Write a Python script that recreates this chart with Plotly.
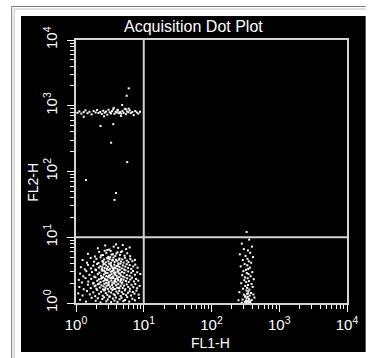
import plotly.graph_objects as go

# ---------------- data ----------------
# lower-left population (FL1-H, FL2-H)
ll_x = [1.15, 1.4, 1.7, 1.95, 2.1, 2.3, 2.45, 2.6, 2.8, 2.95, 3.1, 3.3, 3.5, 3.7, 3.9, 4.1, 4.4, 4.7, 5.0, 5.3, 5.7, 6.1, 6.8, 7.4, 8.5,
        1.08, 1.25, 1.45, 1.6, 1.8, 1.92, 2.05, 2.2, 2.35, 2.48, 2.6, 2.75, 2.9, 3.05, 3.15, 3.3, 3.45, 3.6, 3.75, 3.95, 4.15, 4.35, 4.55, 4.75, 5.0, 5.25, 5.5, 5.85, 6.2, 6.5, 6.9, 7.3, 7.8, 8.4, 2.68,
        1.12, 1.3, 1.5, 1.65, 1.78, 1.88, 2.0, 2.12, 2.25, 2.38, 2.5, 2.62, 2.72, 2.83, 2.95, 3.05, 3.18, 3.28, 3.4, 3.52, 3.65, 3.78, 3.9, 4.05, 4.2, 4.38, 4.55, 4.72, 4.9, 5.1, 5.35, 5.6, 5.9, 6.25, 6.6, 7.0, 7.5, 8.0, 8.7, 2.55, 3.0, 3.6, 2.2, 4.3, 1.95,
        1.1, 1.22, 1.38, 1.52, 1.68, 1.82, 1.94, 2.06, 2.18, 2.3, 2.42, 2.54, 2.66, 2.78, 2.88, 2.98, 3.08, 3.2, 3.32, 3.44, 3.56, 3.68, 3.8, 3.93, 4.06, 4.2, 4.34, 4.5, 4.66, 4.84, 5.02, 5.22, 5.45, 5.7, 6.0, 6.35, 6.7, 7.2, 7.7, 8.3, 2.35, 2.7, 3.0, 3.35, 3.75, 4.1, 2.5, 2.9, 3.5, 4.6,
        1.15, 1.28, 1.42, 1.58, 1.72, 1.86, 1.98, 2.1, 2.22, 2.34, 2.46, 2.58, 2.7, 2.81, 2.92, 3.02, 3.12, 3.24, 3.36, 3.48, 3.6, 3.72, 3.85, 3.98, 4.12, 4.27, 4.42, 4.58, 4.75, 4.95, 5.15, 5.38, 5.62, 5.9, 6.2, 6.55, 6.95, 7.4, 8.0, 8.9, 2.4, 2.75, 3.05, 3.4, 3.8, 4.2, 2.6, 3.2, 3.65, 4.5,
        1.18, 1.35, 1.5, 1.66, 1.8, 1.93, 2.05, 2.17, 2.29, 2.41, 2.53, 2.65, 2.77, 2.87, 2.97, 3.08, 3.18, 3.3, 3.42, 3.55, 3.68, 3.82, 3.96, 4.1, 4.25, 4.4, 4.56, 4.73, 4.92, 5.12, 5.35, 5.6, 5.88, 6.2, 6.55, 7.0, 7.5, 8.1, 2.45, 2.85, 3.25, 3.7, 4.15, 2.6, 3.5,
        1.25, 1.45, 1.65, 1.85, 2.0, 2.15, 2.3, 2.45, 2.6, 2.75, 2.88, 3.0, 3.14, 3.28, 3.42, 3.57, 3.72, 3.88, 4.05, 4.22, 4.4, 4.6, 4.82, 5.05, 5.3, 5.6, 5.95, 6.35, 6.8, 7.4, 2.5, 2.95, 3.5, 4.3, 3.2,
        1.5, 1.9, 2.2, 2.5, 2.8, 3.0, 3.25, 3.5, 3.8, 4.1, 4.45, 4.8, 5.2, 5.7, 6.3, 2.65, 3.35, 3.95, 4.6, 2.35,
        2.1, 2.7, 3.1, 3.6, 4.2, 4.9, 5.5, 3.9, 2.9, 6.2]
ll_y = [1.12, 1.05, 1.2, 1.08, 1.18, 1.02, 1.15, 1.22, 1.06, 1.13, 1.24, 1.03, 1.17, 1.09, 1.21, 1.04, 1.14, 1.2, 1.07, 1.11, 1.23, 1.05, 1.16, 1.1, 1.19,
        1.4, 1.3, 1.52, 1.35, 1.45, 1.27, 1.58, 1.38, 1.48, 1.29, 1.55, 1.42, 1.33, 1.5, 1.26, 1.44, 1.57, 1.36, 1.31, 1.49, 1.4, 1.53, 1.28, 1.46, 1.37, 1.56, 1.32, 1.43, 1.51, 1.3, 1.47, 1.39, 1.54, 1.34, 1.59,
        1.75, 1.62, 1.9, 1.68, 1.98, 1.8, 1.65, 1.93, 1.72, 1.85, 1.61, 1.96, 1.7, 1.83, 1.64, 1.91, 1.77, 1.66, 1.88, 1.73, 1.99, 1.63, 1.86, 1.71, 1.94, 1.67, 1.81, 1.97, 1.69, 1.84, 1.62, 1.92, 1.76, 1.65, 1.89, 1.74, 1.95, 1.68, 1.82, 1.79, 1.87, 1.64, 1.97, 1.7, 1.85,
        2.25, 2.05, 2.4, 2.12, 2.33, 2.02, 2.46, 2.18, 2.29, 2.08, 2.42, 2.15, 2.36, 2.03, 2.27, 2.48, 2.1, 2.38, 2.2, 2.04, 2.44, 2.14, 2.31, 2.07, 2.4, 2.22, 2.49, 2.11, 2.34, 2.06, 2.26, 2.45, 2.16, 2.37, 2.09, 2.28, 2.43, 2.13, 2.32, 2.19, 2.35, 2.24, 2.01, 2.41, 2.17, 2.3, 2.47, 2.21, 2.39, 2.23,
        2.8, 2.55, 3.05, 2.68, 2.95, 2.52, 3.15, 2.75, 2.9, 2.6, 3.1, 2.72, 2.98, 2.56, 2.85, 3.18, 2.64, 3.0, 2.78, 2.53, 3.12, 2.7, 2.92, 2.58, 3.08, 2.82, 3.19, 2.62, 2.96, 2.54, 2.87, 3.14, 2.66, 3.02, 2.59, 2.88, 3.06, 2.69, 2.93, 2.76, 3.16, 2.84, 2.57, 3.04, 2.73, 2.99, 3.11, 2.63, 2.89, 2.79,
        3.5, 3.25, 3.8, 3.35, 3.7, 3.22, 3.92, 3.45, 3.62, 3.28, 3.86, 3.4, 3.74, 3.23, 3.56, 3.96, 3.32, 3.67, 3.48, 3.26, 3.83, 3.38, 3.65, 3.3, 3.88, 3.52, 3.98, 3.36, 3.72, 3.24, 3.58, 3.9, 3.42, 3.77, 3.29, 3.6, 3.84, 3.44, 3.55, 3.34, 3.79, 3.47, 3.68, 3.94, 3.39,
        4.5, 4.1, 4.85, 4.25, 4.7, 4.05, 4.95, 4.35, 4.6, 4.15, 4.8, 4.3, 4.65, 4.08, 4.45, 4.9, 4.2, 4.55, 4.38, 4.02, 4.75, 4.28, 4.62, 4.12, 4.88, 4.42, 4.18, 4.68, 4.32, 4.52, 4.22, 4.78, 4.48, 4.58, 4.98,
        5.6, 5.1, 6.0, 5.35, 5.8, 5.05, 6.2, 5.5, 5.2, 5.9, 5.4, 6.1, 5.25, 5.7, 5.15, 6.25, 5.45, 5.65, 5.95, 5.3,
        6.8, 7.5, 6.5, 7.2, 6.9, 7.6, 6.6, 7.8, 6.4, 7.0]

# upper-left band near 10^3
ul_x = [1.05, 1.12, 1.2, 1.3, 1.38, 1.48, 1.58, 1.7, 1.82, 1.95, 2.05, 2.15, 2.28, 2.4, 2.52, 2.65, 2.78, 2.9, 3.02, 3.15,
        3.28, 3.4, 3.55, 3.7, 3.85, 4.0, 4.15, 4.3, 4.48, 4.65, 4.85, 5.05, 5.25, 5.45, 5.7, 5.95, 6.2, 6.5, 6.8, 7.1,
        7.5, 7.9, 8.3, 8.8, 3.6, 4.1, 4.6, 5.5, 6.0, 2.6,
        6.0, 5.6, 4.8, 1.3, 2.3, 3.55, 3.3, 5.7, 1.4, 3.9, 3.7]
ul_y = [780, 820, 760, 800, 850, 770, 810, 740, 830, 790, 860, 775, 805, 750, 840, 785, 815, 730, 870, 795,
        765, 825, 880, 755, 810, 790, 845, 770, 800, 760, 835, 780, 900, 745, 815, 795, 850, 775, 805, 720,
        830, 790, 760, 810, 930, 870, 700, 880, 905, 690,
        1840, 1420, 1025, 680, 492, 525, 274, 139, 74, 47, 37]

# right population (FL1-H ~ 300)
rc_x = [330, 360, 280, 395, 300, 345, 372, 262, 318, 410, 340, 290, 355, 385, 308, 338, 270, 368, 348, 322,
        296, 400, 332, 352, 284, 378, 312, 342, 420, 305, 358, 326, 275, 390, 346, 315, 405, 336, 292, 362,
        328, 350, 258, 382, 334, 300, 366, 318, 344, 430, 330, 356, 288, 392, 322, 340, 374, 310, 348, 335,
        280, 352, 325, 370, 338, 360, 312, 345, 250, 415]
rc_y = [12.0, 9.2, 8.0, 7.2, 6.6, 6.3, 5.8, 5.5, 5.2, 5.0, 4.7, 4.5, 4.3, 4.1, 3.9, 3.75, 3.6, 3.45, 3.3, 3.2,
        3.05, 2.95, 2.85, 2.75, 2.65, 2.55, 2.45, 2.38, 2.3, 2.22, 2.15, 2.08, 2.0, 1.95, 1.88, 1.82, 1.76, 1.7, 1.65, 1.6,
        1.55, 1.5, 1.46, 1.42, 1.38, 1.34, 1.3, 1.27, 1.24, 1.21, 1.18, 1.15, 1.13, 1.11, 1.09, 1.07, 1.05, 1.04, 1.03, 1.02,
        1.01, 1.0, 1.0, 1.02, 1.06, 1.12, 1.25, 1.4, 1.1, 1.35]

# quadrant gates
gate_x = 10
gate_y = 10

# axes
decades = [1, 10, 100, 1000, 10000]
decade_labels = ["10<sup>0</sup>", "10<sup>1</sup>", "10<sup>2</sup>", "10<sup>3</sup>", "10<sup>4</sup>"]
minor_vals = [m * d for d in [1, 10, 100, 1000] for m in range(2, 10)]

title_text = "Acquisition Dot Plot"
x_title = "FL1-H"
y_title = "FL2-H"

# ---------------- layout geometry ----------------
W, H = 370, 358
L, R, T, B = 76, 18, 40, 55
PW, PH = W - L - R, H - T - B


def px_x(p):
    return (p - L) / PW


def px_y(p):
    return (H - B - p) / PH


FONT = "Liberation Sans, Arial, sans-serif"
FRAME = "#d4d4d4"

fig = go.Figure()

all_x = ll_x + ul_x + rc_x
all_y = ll_y + ul_y + rc_y
fig.add_trace(go.Scatter(
    x=all_x, y=all_y, mode="markers",
    marker=dict(symbol="square", size=2, color="white", line=dict(width=0)),
    hoverinfo="skip", showlegend=False))

# gates
fig.add_trace(go.Scatter(x=[gate_x, gate_x], y=[decades[0], decades[-1]], mode="lines",
                         line=dict(color=FRAME, width=2), hoverinfo="skip", showlegend=False))
fig.add_trace(go.Scatter(x=[decades[0], decades[-1]], y=[gate_y, gate_y], mode="lines",
                         line=dict(color=FRAME, width=2), hoverinfo="skip", showlegend=False))

axis_common = dict(
    type="log", range=[0, 4], tickvals=decades, ticktext=decade_labels,
    ticks="outside", ticklen=7, tickwidth=1, tickcolor="white",
    tickfont=dict(family=FONT, size=15, color="white"),
    minor=dict(tickvals=minor_vals, ticks="outside", ticklen=4, tickwidth=1, tickcolor="white", showgrid=False),
    showgrid=False, zeroline=False, showline=True, linecolor=FRAME, linewidth=2, mirror=True,
    fixedrange=True,
)

fig.update_xaxes(**axis_common)
fig.update_yaxes(**axis_common, tickangle=-90, ticklabelstandoff=4)

shapes = [
    # black instrument panel
    dict(type="rect", xref="paper", yref="paper", x0=px_x(20), x1=px_x(371), y0=px_y(352), y1=px_y(16),
         fillcolor="black", line=dict(width=0), layer="below"),
    # window frame lines
    dict(type="line", xref="paper", yref="paper", x0=px_x(10.5), x1=px_x(371), y0=px_y(6.5), y1=px_y(6.5),
         line=dict(color="#7a7a7a", width=1)),
    dict(type="line", xref="paper", yref="paper", x0=px_x(10.5), x1=px_x(10.5), y0=px_y(6.5), y1=px_y(359),
         line=dict(color="#7a7a7a", width=1)),
    dict(type="line", xref="paper", yref="paper", x0=px_x(13), x1=px_x(371), y0=px_y(9), y1=px_y(9),
         line=dict(color="#c0c0c0", width=1)),
    dict(type="line", xref="paper", yref="paper", x0=px_x(13), x1=px_x(13), y0=px_y(9), y1=px_y(359),
         line=dict(color="#c0c0c0", width=1)),
]

annotations = [
    dict(text=title_text, xref="paper", yref="paper", x=px_x(196), y=px_y(27), showarrow=False,
         xanchor="center", yanchor="middle", font=dict(family=FONT, size=16, color="white")),
    dict(text=x_title, xref="paper", yref="paper", x=px_x(213), y=px_y(343), showarrow=False,
         xanchor="center", yanchor="middle", font=dict(family=FONT, size=14, color="white")),
    dict(text=y_title, xref="paper", yref="paper", x=px_x(32), y=px_y(182), showarrow=False,
         xanchor="center", yanchor="middle", textangle=-90, font=dict(family=FONT, size=14, color="white")),
]

fig.update_layout(
    width=W, height=H, autosize=False,
    margin=dict(l=L, r=R, t=T, b=B, pad=0),
    paper_bgcolor="white", plot_bgcolor="black",
    shapes=shapes, annotations=annotations, showlegend=False,
)

fig.write_html("out.html", config={"displayModeBar": False})
